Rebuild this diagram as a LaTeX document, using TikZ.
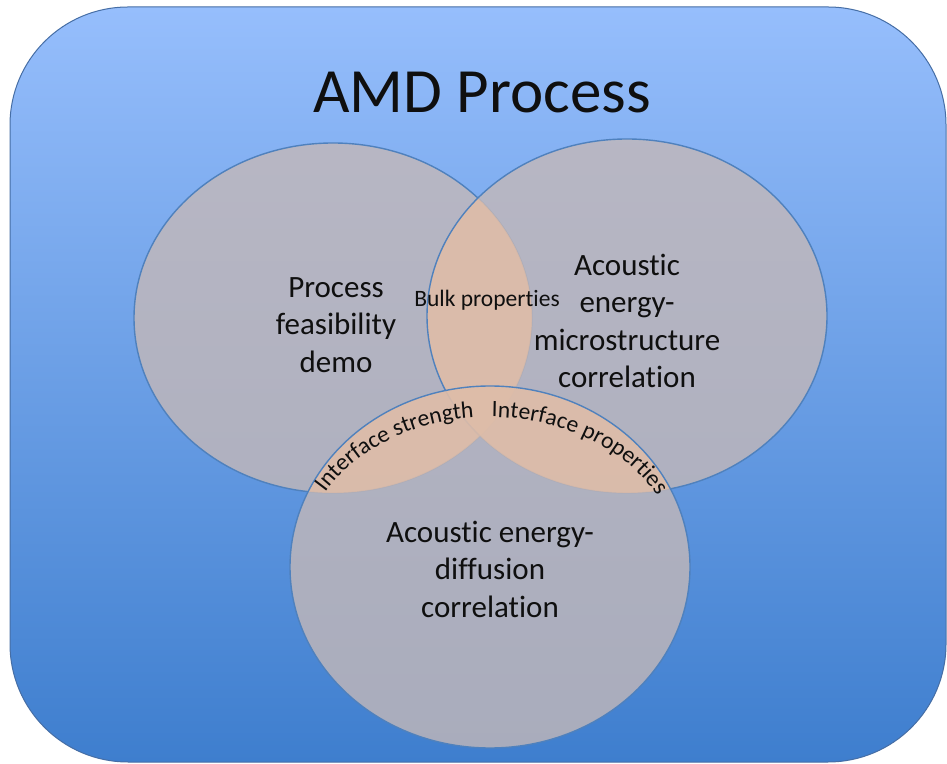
\documentclass[tikz,border=0pt]{standalone}
\usepackage{fontspec}
\setmainfont{Carlito}[Ligatures={NoCommon,NoRequired,NoContextual}]
\usetikzlibrary{decorations.text}
\definecolor{bgtop}{RGB}{150,190,252}
\definecolor{bgmid}{RGB}{114,162,236}
\definecolor{bgbot}{RGB}{62,126,206}
\definecolor{ellgray}{RGB}{196,184,184}
\definecolor{peach}{RGB}{240,192,158}
\definecolor{ellline}{RGB}{79,129,189}
\definecolor{frameline}{RGB}{70,110,165}
\definecolor{txt}{RGB}{15,15,15}
\tikzset{
  ellfill/.style={fill=ellgray, fill opacity=0.8},
  ellborder/.style={draw=ellline, line width=1.4pt},
  overlap/.style={fill=peach, fill opacity=0.55},
  maintext/.style={text=txt, align=center, font=\fontsize{31}{37.5}\selectfont},
  smalltext/.style={text=txt, font=\fontsize{23.5}{28}\selectfont},
}
\begin{document}
\begin{tikzpicture}[x=1pt,y=1pt]
\useasboundingbox (0,0) rectangle (947,763);
% background frame
\shadedraw[top color=bgtop, middle color=bgmid, bottom color=bgbot, draw=frameline, line width=1pt, rounded corners=118pt] (10,1) rectangle (946,756);
% centres
\coordinate (cA) at (333,445);
\coordinate (cB) at (627,447);
\coordinate (cC) at (490,196);
% ellipse A
\path[ellfill] (cA) ellipse [x radius=199pt, y radius=175pt];
\path[ellborder] (cA) ellipse [x radius=199pt, y radius=175pt];
% ellipse B
\path[ellfill] (cB) ellipse [x radius=200pt, y radius=177pt];
\begin{scope}
  \clip (cA) ellipse [x radius=199pt, y radius=175pt];
  \path[overlap] (cB) ellipse [x radius=200pt, y radius=177pt];
\end{scope}
\path[ellborder] (cB) ellipse [x radius=200pt, y radius=177pt];
% ellipse C
\path[ellfill] (cC) ellipse [x radius=200pt, y radius=181pt];
\begin{scope}
  \clip (cC) ellipse [x radius=200pt, y radius=181pt];
  \path[overlap] (cA) ellipse [x radius=199pt, y radius=175pt]
                 (cB) ellipse [x radius=200pt, y radius=177pt];
\end{scope}
\path[ellborder] (cC) ellipse [x radius=200pt, y radius=181pt];
% texts
\node[text=txt, font=\fontsize{63}{75}\selectfont] (title) at (482,670) {AMD Process};
\node[maintext] (tA) at (336,438) {Process\\feasibility\\demo};
\node[maintext] (tB) at (627,442) {Acoustic\\energy-\\microstructure\\correlation};
\node[maintext] (tC) at (490,194) {Acoustic energy-\\diffusion\\correlation};
\node[smalltext] (bulk) at (487,463) {Bulk properties};
% curved labels
\path[decorate, decoration={text along path, text align=center,
   text={|\fontsize{23.5}{28}\selectfont\color{txt}|Interface strength}}]
   (cC) ++(156:190pt and 150pt) arc[start angle=156, end angle=90, x radius=190pt, y radius=150pt];
\path[decorate, decoration={text along path, text align=center,
   text={|\fontsize{23.5}{28}\selectfont\color{txt}|Interface properties}}]
   (cC) ++(93:190pt and 150pt) arc[start angle=93, end angle=24, x radius=190pt, y radius=150pt];
\end{tikzpicture}
\end{document}
